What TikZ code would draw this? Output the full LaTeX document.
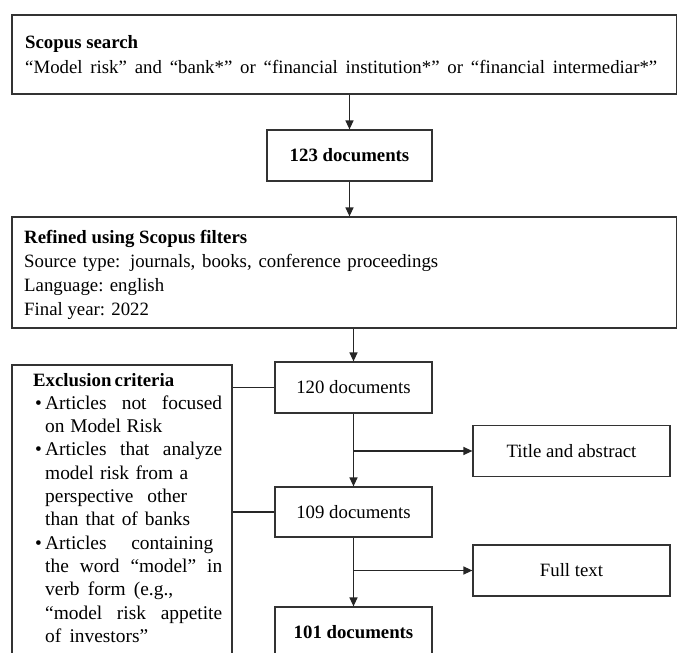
\documentclass[tikz,border=0pt]{standalone}
\usepackage{fontspec}
\setmainfont{Liberation Serif}
\usetikzlibrary{arrows.meta}
\newcommand{\bul}[2]{\hspace*{2pt}\makebox[10pt][l]{•}\makebox[#1][s]{#2}}
\newcommand{\cnt}[2]{\hspace*{12pt}\makebox[#1][s]{#2}}
\begin{document}
\begin{tikzpicture}[x=1pt,y=-1pt,
  box/.style={draw=black!80, line width=1.2pt, inner sep=0pt, font=\fontsize{18.8}{24}\selectfont},
  arr/.style={draw=black!85, line width=1.2pt, -{Triangle[length=9pt,width=8pt]}},
  lnk/.style={draw=black!85, line width=1.2pt},
  txt/.style={inner sep=0pt, anchor=base west}]
\useasboundingbox (0,0) rectangle (678,653);
\clip (0,0) rectangle (678,653);
% boxes
\node[box, minimum width=664.5pt, minimum height=79pt] (search) at (344.25,54.5) {};
\node[txt] (searcht) at (25,48) {\parbox[t]{645pt}{\fontsize{18.8}{25}\selectfont
  \textbf{Scopus search}\\
  \makebox[632pt][s]{“Model risk” and “bank*” or “financial institution*” or “financial intermediar*”}}};
\node[box, minimum width=165pt, minimum height=51pt] (doc123) at (349.5,155.5) {\textbf{123 documents}};
\node[box, minimum width=664.5pt, minimum height=111pt] (refined) at (344.25,272.5) {};
\node[txt] (refinedt) at (24,243) {\parbox[t]{645pt}{\fontsize{18.8}{24}\selectfont
  \textbf{Refined using Scopus filters}\\
  \makebox[414pt][s]{Source type: journals, books, conference proceedings}\\
  \makebox[140pt][s]{Language: english}\\
  Final year: 2022}};
\node[box, minimum width=220pt, minimum height=295pt] (excl) at (122,512.5) {};
\node[txt] (exclt) at (33,386) {\parbox[t]{200pt}{\fontsize{19.4}{23.3}\selectfont
  \makebox[137pt][s]{\fontsize{18.8}{23.3}\selectfont\textbf{Exclusion criteria}}\\
  \bul{177pt}{Articles not focused}\\
  \cnt{117pt}{on Model Risk}\\
  \bul{177pt}{Articles that analyze}\\
  \cnt{143pt}{model risk from a}\\
  \cnt{142pt}{perspective other}\\
  \cnt{145pt}{than that of banks}\\
  \bul{168pt}{Articles containing}\\
  \cnt{177pt}{the word “model” in}\\
  \cnt{128pt}{verb form (e.g.,}\\
  \cnt{177pt}{“model risk appetite}\\
  \cnt{103pt}{of investors”}}};
\node[box, minimum width=157pt, minimum height=51pt] (doc120) at (353.5,387.5) {120 documents};
\node[box, minimum width=197pt, minimum height=51pt] (title) at (571.5,451) {Title and abstract};
\node[box, minimum width=157pt, minimum height=50pt] (doc109) at (353.5,512) {109 documents};
\node[box, minimum width=197pt, minimum height=51pt] (full) at (571.5,570.5) {Full text};
\node[box, minimum width=157pt, minimum height=51pt] (doc101) at (353.5,632.5) {\textbf{101 documents}};
% connectors
\draw[arr] (doc123.north |- search.south) -- (doc123.north);
\draw[arr] (doc123.south) -- (doc123.south |- refined.north);
\draw[arr] (doc120.north |- refined.south) -- (doc120.north);
\draw[arr] (doc120.south) -- (doc109.north);
\draw[arr] (doc120.south |- title.west) -- (title.west);
\draw[arr] (doc109.south) -- (doc101.north);
\draw[arr] (doc109.south |- full.west) -- (full.west);
\draw[lnk] (excl.east |- doc120.west) -- (doc120.west);
\draw[lnk] (excl.east |- doc109.west) -- (doc109.west);
\end{tikzpicture}
\end{document}
